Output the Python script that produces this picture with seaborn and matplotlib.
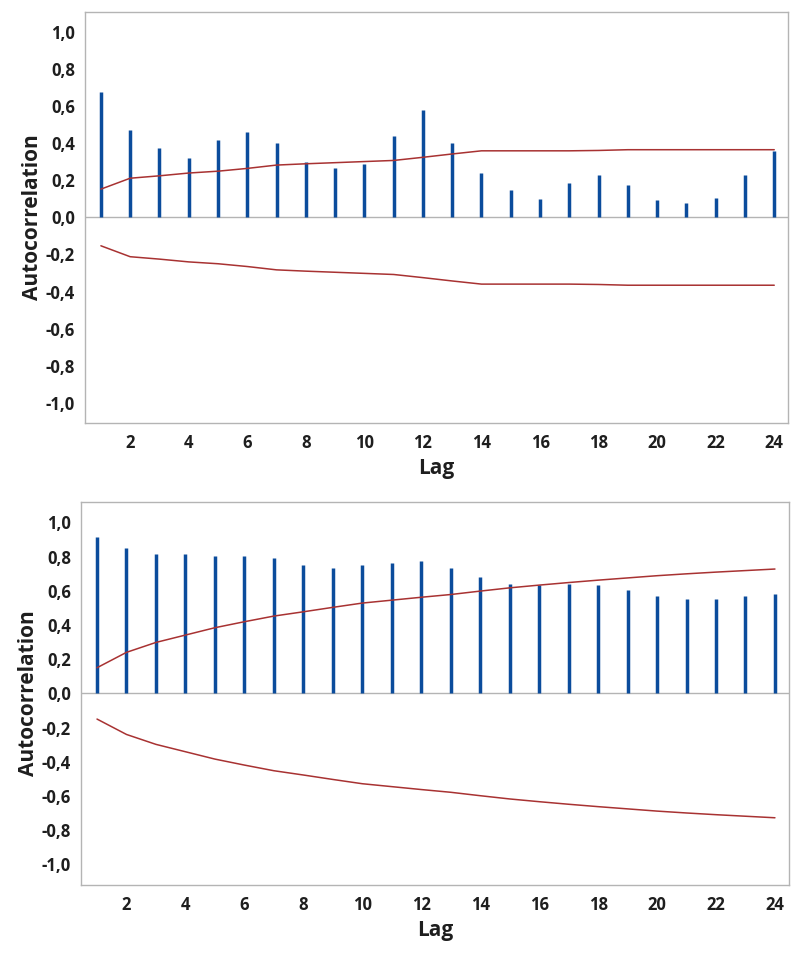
import numpy as np
import pandas as pd
import matplotlib
matplotlib.use("Agg")
import matplotlib.pyplot as plt
from matplotlib.ticker import FuncFormatter, FixedLocator
import seaborn as sns

# Lags shown on both ACF panels
lags = list(range(1, 25))

# Top panel: autocorrelation and upper significance limit
acf_top = [0.676, 0.474, 0.375, 0.319, 0.418, 0.461, 0.400, 0.300, 0.265, 0.290,
           0.438, 0.578, 0.400, 0.241, 0.149, 0.099, 0.185, 0.229, 0.173, 0.094,
           0.076, 0.104, 0.229, 0.357]
limit_top = [0.153, 0.212, 0.225, 0.240, 0.250, 0.265, 0.283, 0.290, 0.296, 0.302,
             0.308, 0.325, 0.343, 0.360, 0.360, 0.360, 0.360, 0.362, 0.366, 0.366,
             0.366, 0.366, 0.366, 0.366]

# Bottom panel
acf_bottom = [0.916, 0.848, 0.817, 0.817, 0.803, 0.803, 0.791, 0.748, 0.735, 0.748,
              0.762, 0.774, 0.731, 0.680, 0.641, 0.635, 0.641, 0.635, 0.604, 0.567,
              0.550, 0.550, 0.567, 0.581]
limit_bottom = [0.150, 0.240, 0.298, 0.341, 0.384, 0.419, 0.452, 0.477, 0.503, 0.528,
                0.545, 0.562, 0.578, 0.598, 0.617, 0.633, 0.648, 0.662, 0.675, 0.688,
                0.699, 0.709, 0.718, 0.727]

x_ticks = [2, 4, 6, 8, 10, 12, 14, 16, 18, 20, 22, 24]
y_ticks = [-1.0, -0.8, -0.6, -0.4, -0.2, 0.0, 0.2, 0.4, 0.6, 0.8, 1.0]

sns.set_style("white")
plt.rcParams['font.family'] = ['Liberation Sans Narrow', 'Open Sans', 'DejaVu Sans']

bar_color = "#0b4c9c"
limit_color = "#a83232"
frame_color = "#b4b4b4"
text_color = "#1e1e1e"

fig = plt.figure(figsize=(8, 9.58), dpi=100)
ax1 = fig.add_axes([0.106, 0.5585, 0.879, 0.429])
ax2 = fig.add_axes([0.101, 0.0762, 0.885, 0.4])


def draw_acf(ax, acf, limit, ylim):
    df = pd.DataFrame({"lag": lags, "acf": acf, "upper": limit,
                       "lower": [-v for v in limit]})
    ax.axhline(0, color=frame_color, lw=1.0, zorder=1)
    ax.vlines(df["lag"], 0, df["acf"], color=bar_color, lw=2.5, zorder=3)
    sns.lineplot(data=df, x="lag", y="upper", ax=ax, color=limit_color, lw=1.1, zorder=4)
    sns.lineplot(data=df, x="lag", y="lower", ax=ax, color=limit_color, lw=1.1, zorder=4)
    ax.set_xlim(0.45, 24.47)
    ax.set_ylim(-ylim, ylim)
    ax.xaxis.set_major_locator(FixedLocator(x_ticks))
    ax.yaxis.set_major_locator(FixedLocator(y_ticks))
    ax.yaxis.set_major_formatter(FuncFormatter(lambda v, p: f"{v:.1f}".replace(".", ",")))
    ax.tick_params(axis="both", direction="out", length=4, width=0.8, color=frame_color,
                   labelsize=12, labelcolor=text_color, pad=3)
    ax.tick_params(axis="x", pad=4)
    for lbl in ax.get_xticklabels() + ax.get_yticklabels():
        lbl.set_fontweight("bold")
    for s in ax.spines.values():
        s.set_color(frame_color)
        s.set_linewidth(1.0)
    ax.set_xlabel("Lag", fontsize=15, fontweight="bold", color=text_color, labelpad=4)
    ax.set_ylabel("Autocorrelation", fontsize=15, fontweight="bold", color=text_color,
                  labelpad=2)


draw_acf(ax1, acf_top, limit_top, 1.11)
draw_acf(ax2, acf_bottom, limit_bottom, 1.12)

fig.savefig("out.png", dpi=100)
